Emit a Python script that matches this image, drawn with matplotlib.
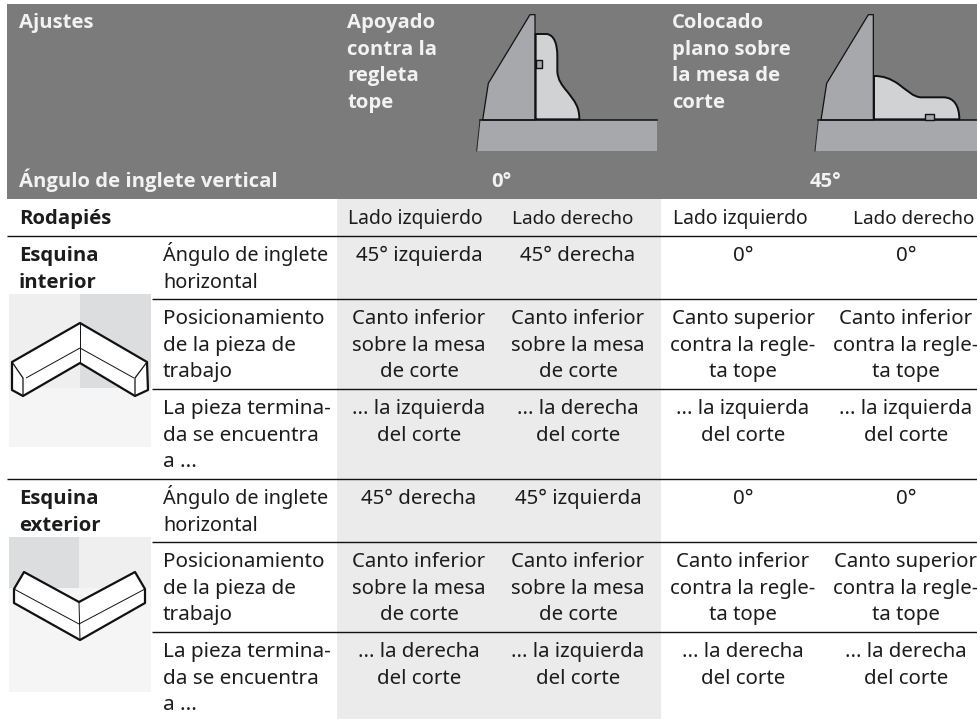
import numpy as np
import matplotlib
matplotlib.use('Agg')
import matplotlib.pyplot as plt
from matplotlib.path import Path
from matplotlib.patches import PathPatch, Polygon, Rectangle

plt.rcParams['font.family'] = ['Noto Sans', 'DejaVu Sans']

header_left = ['Ajustes']
header_mid = ['Apoyado', 'contra la', 'regleta', 'tope']
header_right = ['Colocado', 'plano sobre', 'la mesa de', 'corte']
header_angle = 'Ángulo de inglete vertical'
angles = ['0°', '45°']
sides = ['Lado izquierdo', 'Lado derecho', 'Lado izquierdo', 'Lado derecho']
row_labels = [['Ángulo de inglete', 'horizontal'],
              ['Posicionamiento', 'de la pieza de', 'trabajo'],
              ['La pieza termina-', 'da se encuentra', 'a ...']]
groups = [['Esquina', 'interior'], ['Esquina', 'exterior']]
interior = [
    [['45° izquierda'], ['45° derecha'], ['0°'], ['0°']],
    [['Canto inferior', 'sobre la mesa', 'de corte'],
     ['Canto inferior', 'sobre la mesa', 'de corte'],
     ['Canto superior', 'contra la regle-', 'ta tope'],
     ['Canto inferior', 'contra la regle-', 'ta tope']],
    [['... la izquierda', 'del corte'], ['... la derecha', 'del corte'],
     ['... la izquierda', 'del corte'], ['... la izquierda', 'del corte']],
]
exterior = [
    [['45° derecha'], ['45° izquierda'], ['0°'], ['0°']],
    [['Canto inferior', 'sobre la mesa', 'de corte'],
     ['Canto inferior', 'sobre la mesa', 'de corte'],
     ['Canto inferior', 'contra la regle-', 'ta tope'],
     ['Canto superior', 'contra la regle-', 'ta tope']],
    [['... la derecha', 'del corte'], ['... la izquierda', 'del corte'],
     ['... la derecha', 'del corte'], ['... la derecha', 'del corte']],
]

col_x = [419, 578, 743, 906]
side_x = [415, 573, 740, 914]
row_y = [[261, 324, 414], [504, 567, 657]]
leading = 26.6
size = 14.7
label_sizes = [14.3, 14.9, 14.9]
side_sizes = [13.9, 13.6, 13.9, 13.6]
bold_family = ['Open Sans', 'Liberation Sans', 'DejaVu Sans']
bold_size = 14.6
dark = '#1c1c1c'
head = '#7b7b7b'
light = '#f5f5f5'
fence = '#a7a8ab'
profile = '#d1d2d4'

fig = plt.figure(figsize=(9.77, 7.19), dpi=100)
ax = fig.add_axes([0, 0, 1, 1])
ax.set_xlim(0, 977)
ax.set_ylim(719, 0)
ax.axis('off')


def lines(x, y, parts, ha='left', color=dark, bold=False, fs=size):
    for i, s in enumerate(parts):
        if bold:
            ax.text(x, y + i * leading, s, ha=ha, va='baseline', color=color,
                    fontsize=bold_size, fontweight='bold', family=bold_family)
        else:
            ax.text(x, y + i * leading, s, ha=ha, va='baseline', color=color, fontsize=fs)


def rect(x0, y0, x1, y1, color):
    ax.add_patch(Rectangle((x0, y0), x1 - x0, y1 - y0, fc=color, ec='none', zorder=0))


def rule(x0, y):
    ax.plot([x0, 977], [y, y], color='#111111', lw=1.0, zorder=2, solid_capstyle='butt')


def poly(pts, fc='none', lw=1.3, closed=True, z=3):
    ax.add_patch(Polygon(pts, closed=closed, fc=fc, ec='#111111', lw=lw, zorder=z,
                         joinstyle='round'))


# fondos
rect(7, 4, 977, 199, head)
rect(337, 199, 661, 719, '#ebebeb')

# dibujos del encabezado, coordenadas de la ampliacion x3
def tool(x_off, x_fence, base_x0, base_x1, curve):
    def p(x, y):
        return (x_off + x / 3, y / 3)
    ax.add_patch(Polygon([p(base_x0, 360), p(base_x1, 360), p(base_x1, 453), p(base_x0 - 10, 453)],
                         fc=fence, ec='none', zorder=2))
    ax.plot([p(base_x0, 0)[0], p(base_x1, 0)[0]], [120, 120], color='#111111', lw=1.1, zorder=4)
    ax.plot([p(base_x0, 360)[0], p(base_x0 - 10, 453)[0]], [120, 151], color='#222222', lw=0.7, zorder=4)
    poly([p(x_fence - 15, 44), p(x_fence, 44), p(x_fence, 360),
          p(x_fence - 157, 360), p(x_fence - 140, 250)], fc=fence, lw=0.9)
    verts = [p(*c) for c, _ in curve]
    codes = [k for _, k in curve]
    ax.add_patch(PathPatch(Path(verts, codes), fc=profile, ec='#111111', lw=1.4, zorder=3))


M, L, C = Path.MOVETO, Path.LINETO, Path.CURVE4
tool(330, 615, 450, 980, [
    ((617, 358), M), ((617, 102), L), ((650, 102), L),
    ((672, 105), C), ((682, 130), C), ((682, 170), C),
    ((682, 215), L), ((684, 240), C), ((695, 255), C), ((712, 275), C),
    ((735, 305), C), ((748, 320), C), ((748, 358), C), ((617, 358), L)])
poly([(330 + 617 / 3, 60), (330 + 635 / 3, 60), (330 + 635 / 3, 68), (330 + 617 / 3, 68)], fc=fence, lw=1.0, z=4)
tool(650, 670, 505, 981, [
    ((672, 358), M), ((672, 228), L), ((700, 228), C), ((720, 235), C), ((745, 252), C),
    ((770, 270), C), ((790, 292), C), ((815, 292), C), ((880, 292), L),
    ((912, 292), C), ((928, 318), C), ((928, 358), C), ((672, 358), L)])
poly([(650 + 824 / 3, 119.5), (650 + 824 / 3, 114), (650 + 851 / 3, 114), (650 + 851 / 3, 119.5)], fc=fence, lw=1.0, z=4)

# encabezado
lines(19, 28, header_left, color='#f2f2f2', bold=True)
lines(347, 28, header_mid, color='#f2f2f2', bold=True)
lines(672, 28, header_right, color='#f2f2f2', bold=True)
lines(19, 187, [header_angle], color='#f2f2f2', bold=True)
lines(501, 187, [angles[0]], ha='center', color='#f2f2f2', bold=True)
lines(825, 187, [angles[1]], ha='center', color='#f2f2f2', bold=True)

# lineas
for x0, y in [(7, 236), (152, 299), (152, 389), (7, 479), (152, 542), (152, 632)]:
    rule(x0, y)

lines(19, 224, ['Rodapiés'], bold=True)
for x, s, fs in zip(side_x, sides, side_sizes):
    lines(x, 224, [s], ha='center', fs=fs)

for g, ys, block in zip(groups, row_y, [interior, exterior]):
    lines(19, ys[0], g, bold=True)
    for y, labels, cells, fs in zip(ys, row_labels, block, label_sizes):
        lines(163, y, labels, fs=fs)
        for x, cell in zip(col_x, cells):
            lines(x, y, cell, ha='center')

# esquina interior
rect(9, 294, 80, 388, '#efefef')
rect(80, 294, 151, 388, '#dcdddf')
rect(9, 388, 151, 447, light)
poly([(80, 323), (147, 362), (148, 390), (135, 396), (80, 363), (23, 396), (12, 390), (12, 362)], fc='white', lw=1.6)
poly([(80, 323), (80, 363)], lw=0.7, closed=False)
poly([(26, 378), (80, 348), (134, 378)], lw=0.7, closed=False)
poly([(12, 362), (23, 378), (23, 396)], lw=0.9, closed=False)
poly([(147, 362), (135, 378), (135, 396)], lw=0.9, closed=False)

# esquina exterior
rect(9, 537, 79, 588, '#dcdddf')
rect(79, 537, 151, 588, '#efefef')
rect(9, 588, 151, 692, light)
poly([(24, 572), (79, 602), (135, 572), (145, 589), (145, 603), (80, 640), (14, 603), (14, 589)], fc='white', lw=1.6)
poly([(14, 589), (79, 624), (145, 589)], lw=0.7, closed=False)
poly([(79, 602), (80, 640)], lw=0.7, closed=False)

fig.savefig('out.png', dpi=100)
